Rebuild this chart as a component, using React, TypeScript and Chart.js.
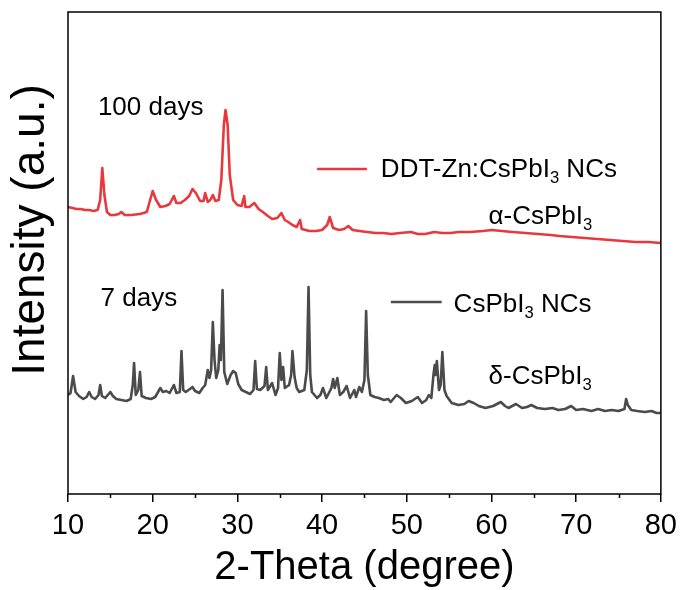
import React, { useEffect, useRef } from "react";
import { Chart, registerables } from "chart.js";
Chart.register(...registerables);

const FONT = "'Liberation Sans', Arial, Helvetica, sans-serif";
const RED = "#e8383d";
const GREY = "#4b4b4b";

// 100 days (DDT-Zn:CsPbI3 NCs), 2-theta in degree
const redTheta = [10.0, 10.5, 11.0, 11.5, 12.0, 12.5, 13.0, 13.5, 13.8, 14.05, 14.3, 14.6, 15.0, 15.5, 16.0, 16.3, 16.7, 17.5, 18.5, 19.3, 19.7, 20.0, 20.4, 20.9, 21.5, 22.0, 22.5, 22.8, 23.3, 23.8, 24.3, 24.7, 25.1, 25.6, 26.0, 26.2, 26.5, 26.8, 27.1, 27.4, 27.8, 28.1, 28.4, 28.6, 28.85, 29.1, 29.5, 30.0, 30.5, 30.8, 30.95, 31.4, 32.0, 32.5, 33.0, 33.6, 34.1, 34.7, 35.2, 35.6, 36.0, 36.5, 37.0, 37.4, 37.6, 38.5, 39.3, 40.0, 40.6, 40.9, 41.3, 42.0, 42.6, 43.1, 43.6, 44.4, 45.3, 46.3, 47.2, 48.2, 49.2, 50.5, 51.3, 52.2, 53.2, 54.2, 55.2, 56.1, 57.5, 59.0, 60.0, 61.2, 62.5, 64.0, 65.5, 67.0, 68.0, 69.5, 71.0, 72.5, 74.0, 75.5, 77.0, 78.5, 80.0];
const redIntensity = [287, 286, 285, 285, 284, 284, 283, 284, 294, 326, 299, 282, 279, 279, 280, 282, 279, 279, 280, 282, 294, 303, 294, 287, 288, 290, 298, 291, 291, 294, 298, 305, 301, 293, 293, 301, 292, 294, 299, 293, 294, 314, 369, 384, 369, 319, 294, 289, 288, 298, 287, 287, 291, 285, 282, 278, 275, 276, 281, 274, 272, 269, 267, 274, 265, 263, 263, 264, 269, 277, 266, 264, 265, 268, 264, 263, 262, 261, 261, 260, 261, 262, 260, 260, 262, 261, 261, 262, 262, 263, 264, 263, 262, 261, 260, 259, 258, 257, 256, 255, 254, 253, 252, 252, 251];

// 7 days (CsPbI3 NCs)
const greyTheta = [10.0, 10.3, 10.6, 10.9, 11.3, 11.8, 12.2, 12.5, 12.8, 13.2, 13.6, 13.8, 14.0, 14.4, 15.0, 15.3, 15.7, 16.3, 16.9, 17.4, 17.65, 17.8, 18.0, 18.3, 18.5, 18.7, 19.2, 19.8, 20.3, 20.9, 21.2, 21.6, 22.0, 22.5, 22.8, 23.2, 23.4, 23.6, 23.9, 24.4, 24.7, 25.0, 25.5, 25.9, 26.2, 26.5, 26.7, 26.9, 27.1, 27.3, 27.5, 27.75, 27.9, 28.05, 28.25, 28.45, 28.8, 29.2, 29.5, 29.8, 30.1, 30.5, 31.0, 31.5, 31.9, 32.1, 32.3, 32.7, 33.2, 33.4, 33.6, 34.1, 34.5, 34.8, 35.0, 35.2, 35.4, 35.6, 36.1, 36.35, 36.5, 36.75, 37.0, 37.3, 37.9, 38.2, 38.4, 38.6, 38.8, 39.4, 39.8, 40.1, 40.5, 40.8, 41.1, 41.3, 41.5, 41.8, 42.1, 42.5, 42.9, 43.3, 43.8, 44.0, 44.4, 44.7, 45.0, 45.2, 45.4, 45.7, 46.2, 46.7, 47.3, 47.8, 48.1, 48.8, 49.3, 49.9, 50.6, 51.3, 51.8, 52.3, 52.6, 52.9, 53.15, 53.3, 53.4, 53.55, 53.8, 54.0, 54.2, 54.45, 54.7, 55.3, 56.1, 56.8, 57.3, 57.9, 58.5, 59.3, 60.2, 61.1, 61.6, 62.0, 62.9, 63.6, 64.2, 64.7, 65.4, 66.3, 67.2, 67.9, 68.7, 69.4, 70.0, 70.8, 71.8, 72.6, 73.4, 74.2, 75.0, 75.7, 75.9, 76.1, 76.5, 77.2, 78.1, 78.9, 79.5, 80.0];
const greyIntensity = [99, 101, 118, 102, 98, 95, 97, 102, 97, 95, 99, 109, 98, 96, 102, 98, 95, 94, 93, 95, 109, 131, 99, 104, 122, 98, 96, 95, 97, 106, 102, 103, 101, 109, 101, 102, 143, 104, 102, 105, 107, 103, 101, 106, 109, 124, 116, 124, 172, 134, 116, 124, 149, 134, 204, 122, 110, 119, 123, 121, 110, 104, 102, 100, 104, 133, 105, 104, 108, 127, 104, 111, 99, 106, 141, 114, 127, 106, 109, 119, 143, 117, 106, 102, 104, 124, 207, 119, 102, 96, 99, 106, 96, 101, 106, 115, 106, 116, 99, 102, 108, 96, 104, 97, 107, 102, 114, 183, 119, 99, 97, 96, 94, 95, 92, 99, 96, 91, 93, 97, 91, 94, 99, 96, 119, 129, 119, 133, 104, 109, 142, 104, 98, 91, 89, 90, 93, 91, 88, 86, 88, 92, 88, 86, 90, 86, 87, 89, 86, 85, 86, 84, 85, 88, 84, 85, 83, 85, 83, 84, 83, 85, 95, 89, 84, 83, 82, 83, 81, 81];

const xTicks = [10, 20, 30, 40, 50, 60, 70, 80];
const xMinorTicks = [15, 25, 35, 45, 55, 65, 75];

const App: React.FC = () => {
  const ref = useRef<HTMLCanvasElement | null>(null);

  useEffect(() => {
    if (!ref.current) return;

    const drawRich = (ctx: CanvasRenderingContext2D, x: number, y: number, parts: [string, boolean][], size: number) => {
      let cx = x;
      ctx.textAlign = "left";
      ctx.textBaseline = "alphabetic";
      ctx.fillStyle = "#000";
      for (const [t, sub] of parts) {
        const s = sub ? size * 0.64 : size;
        ctx.font = `${s}px ${FONT}`;
        ctx.fillText(t, cx, sub ? y + size * 0.22 : y);
        cx += ctx.measureText(t).width;
      }
    };

    const overlay = {
      id: "overlay",
      afterDraw(chart: any) {
        const ctx: CanvasRenderingContext2D = chart.ctx;
        const { left, right, top, bottom } = chart.chartArea;
        const xs = chart.scales.x;
        const ys = chart.scales.y;
        ctx.save();
        // frame
        ctx.strokeStyle = "#000";
        ctx.lineWidth = 1.5;
        ctx.strokeRect(left, top, right - left, bottom - top);
        // minor ticks
        ctx.beginPath();
        for (const v of xMinorTicks) {
          const px = Math.round(xs.getPixelForValue(v)) + 0.5;
          ctx.moveTo(px, bottom);
          ctx.lineTo(px, bottom + 4);
        }
        ctx.stroke();
        // annotations
        ctx.font = `26px ${FONT}`;
        ctx.fillStyle = "#000";
        ctx.textBaseline = "alphabetic";
        ctx.textAlign = "left";
        ctx.fillText("100 days", xs.getPixelForValue(13.53), ys.getPixelForValue(379));
        ctx.fillText("7 days", xs.getPixelForValue(13.84), ys.getPixelForValue(188));
        drawRich(ctx, xs.getPixelForValue(59.65), ys.getPixelForValue(270), [["α-CsPbI", false], ["3", true]], 26);
        drawRich(ctx, xs.getPixelForValue(59.65), ys.getPixelForValue(110), [["δ-CsPbI", false], ["3", true]], 26);
        // legend
        const legendEntries: { color: string; x0: number; x1: number; ly: number; tx: number; ty: number; parts: [string, boolean][] }[] = [
          { color: RED, x0: 39.41, x1: 45.29, ly: 325, tx: 46.94, ty: 317, parts: [["DDT-Zn:CsPbI", false], ["3", true], [" NCs", false]] },
          { color: GREY, x0: 48.12, x1: 54.12, ly: 192, tx: 55.53, ty: 182, parts: [["CsPbI", false], ["3", true], [" NCs", false]] },
        ];
        for (const e of legendEntries) {
          ctx.strokeStyle = e.color;
          ctx.lineWidth = 2.5;
          ctx.beginPath();
          ctx.moveTo(xs.getPixelForValue(e.x0), ys.getPixelForValue(e.ly));
          ctx.lineTo(xs.getPixelForValue(e.x1), ys.getPixelForValue(e.ly));
          ctx.stroke();
          drawRich(ctx, xs.getPixelForValue(e.tx), ys.getPixelForValue(e.ty), e.parts, 26);
        }
        // y title
        ctx.translate(44, 230);
        ctx.rotate(-Math.PI / 2);
        ctx.font = `46px ${FONT}`;
        ctx.textAlign = "center";
        ctx.textBaseline = "alphabetic";
        ctx.fillStyle = "#000";
        ctx.fillText("Intensity (a.u.)", 0, 0);
        ctx.restore();
      },
    };

    const chart = new Chart(ref.current, {
      type: "line",
      data: {
        datasets: [
          {
            label: "DDT-Zn:CsPbI3 NCs",
            data: redTheta.map((x, i) => ({ x, y: redIntensity[i] })),
            borderColor: RED,
            borderWidth: 2.6,
            pointRadius: 0,
            tension: 0,
            borderJoinStyle: "round",
          },
          {
            label: "CsPbI3 NCs",
            data: greyTheta.map((x, i) => ({ x, y: greyIntensity[i] })),
            borderColor: GREY,
            borderWidth: 2.6,
            pointRadius: 0,
            tension: 0,
            borderJoinStyle: "round",
          },
        ],
      },
      options: {
        animation: false,
        responsive: false,
        devicePixelRatio: 1,
        layout: { padding: { top: 12, right: 21, left: 0, bottom: 0 } },
        plugins: { legend: { display: false }, tooltip: { enabled: false } },
        scales: {
          x: {
            type: "linear",
            min: 10,
            max: 80,
            afterBuildTicks: (s: any) => {
              s.ticks = xTicks.map((v) => ({ value: v }));
            },
            ticks: { font: { family: FONT, size: 29 }, color: "#000", padding: 7, maxRotation: 0, autoSkip: false },
            grid: { display: true, drawOnChartArea: false, drawTicks: true, tickLength: 8, color: "#000", lineWidth: 1.5 },
            border: { display: false },
            title: {
              display: true,
              text: "2-Theta (degree)",
              color: "#000",
              font: { family: FONT, size: 40, lineHeight: 1.1 },
              padding: { top: 0, bottom: 0 },
            },
            afterFit: (s: any) => {
              s.height = 96;
            },
          },
          y: {
            min: 0,
            max: 482,
            ticks: { display: false },
            grid: { display: false },
            border: { display: false },
            afterFit: (s: any) => {
              s.width = 68;
            },
          },
        },
      },
      plugins: [overlay],
    } as any);

    return () => chart.destroy();
  }, []);

  return (
    <div style={{ position: "fixed", left: 0, top: 0, width: 684, height: 590, background: "#fff" }}>
      <canvas ref={ref} width={684} height={590} style={{ width: 684, height: 590, display: "block" }} />
    </div>
  );
};

export default App;
